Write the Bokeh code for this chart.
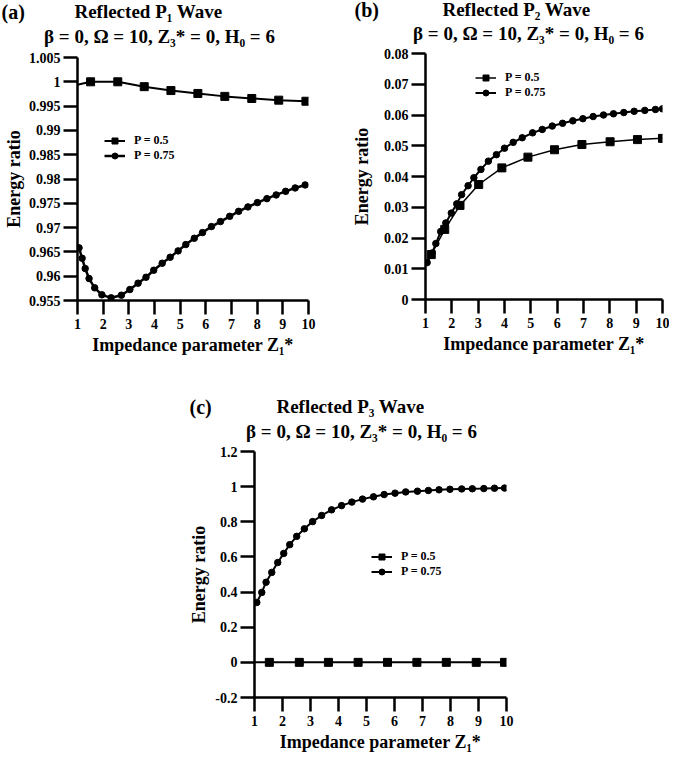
from bokeh.plotting import figure
from bokeh.models import Range1d, FixedTicker, Label, Legend, LegendItem, Spacer
from bokeh.layouts import column, row
from bokeh.embed import file_html
from bokeh.resources import INLINE

FONT = "Liberation Serif"

# ---------------- data ----------------
x_ticks = [1, 2, 3, 4, 5, 6, 7, 8, 9, 10]
x_tick_labels = ["1", "2", "3", "4", "5", "6", "7", "8", "9", "10"]
legend_labels = ["P = 0.5", "P = 0.75"]
x_title = "Impedance parameter Z\u2081*"
y_title = "Energy ratio"
subtitle = "\u03b2 = 0, \u03a9 = 10, Z\u2083* = 0, H\u2080 = 6"

# (a) Reflected P1 wave
a_title = "Reflected P\u2081 Wave"
a_y_ticks = [0.955, 0.96, 0.965, 0.97, 0.975, 0.98, 0.985, 0.99, 0.995, 1.0, 1.005]
a_y_labels = ["0.955", "0.96", "0.965", "0.97", "0.975", "0.98", "0.985", "0.99", "0.995", "1", "1.005"]
a_x_p05 = [1.0, 1.51, 2.57, 3.6, 4.64, 5.69, 6.74, 7.79, 8.84, 9.9]
a_y_p05 = [0.9994, 1.0000, 1.0000, 0.9990, 0.9982, 0.9976, 0.9970, 0.99657, 0.99622, 0.9960]
a_x_p075 = [1.0, 1.06, 1.18, 1.30, 1.45, 1.67, 1.95, 2.31, 2.71, 3.04, 3.36, 3.67, 3.97, 4.30, 4.61,
            4.92, 5.22, 5.55, 5.87, 6.22, 6.57, 6.93, 7.28, 7.64, 8.01, 8.38, 8.74, 9.11, 9.48, 9.87]
a_y_p075 = [0.9662, 0.96583, 0.96369, 0.96158, 0.95952, 0.95761, 0.95617, 0.95555, 0.95609, 0.95726,
            0.95856, 0.95979, 0.96123, 0.96267, 0.9639, 0.96521, 0.96651, 0.9678, 0.96897, 0.97021,
            0.97124, 0.97232, 0.97335, 0.97426, 0.97514, 0.97596, 0.97672, 0.97746, 0.97816, 0.97878]

# (b) Reflected P2 wave
b_title = "Reflected P\u2082 Wave"
b_y_ticks = [0.0, 0.01, 0.02, 0.03, 0.04, 0.05, 0.06, 0.07, 0.08]
b_y_labels = ["0", "0.01", "0.02", "0.03", "0.04", "0.05", "0.06", "0.07", "0.08"]
b_x_p05 = [1.0, 1.22, 1.73, 2.31, 3.02, 3.90, 4.89, 5.90, 6.94, 8.01, 9.05, 10.0]
b_y_p05 = [0.0116, 0.0146, 0.0228, 0.0306, 0.0374, 0.0428, 0.0463, 0.0487, 0.0504, 0.0513, 0.0520, 0.0524]
b_x_p075 = [1.0, 1.062, 1.246, 1.393, 1.577, 1.771, 1.98, 2.187, 2.371, 2.617, 2.837, 3.105, 3.388,
            3.693, 4.0, 4.33, 4.674, 5.067, 5.434, 5.813, 6.206, 6.595, 6.977, 7.367, 7.76, 8.138,
            8.531, 8.924, 9.328, 9.732, 10.0]
b_y_p075 = [0.0116, 0.0120, 0.0151, 0.0182, 0.0221, 0.0249, 0.0281, 0.0311, 0.0341, 0.0370, 0.0396,
            0.0423, 0.0450, 0.0471, 0.0492, 0.0511, 0.0526, 0.0542, 0.0553, 0.0564, 0.0573, 0.0581,
            0.0588, 0.0595, 0.0600, 0.0604, 0.0608, 0.0612, 0.0615, 0.0618, 0.0620]

# (c) Reflected P3 wave
c_title = "Reflected P\u2083 Wave"
c_y_ticks = [-0.2, 0.0, 0.2, 0.4, 0.6, 0.8, 1.0, 1.2]
c_y_labels = ["-0.2", "0", "0.2", "0.4", "0.6", "0.8", "1", "1.2"]
c_x_p05 = [1.0, 1.53, 2.6, 3.64, 4.7, 5.75, 6.8, 7.85, 8.92, 9.93]
c_y_p05 = [0.0, 0.0, 0.0, 0.0, 0.0, 0.0, 0.0, 0.0, 0.0, 0.0]
c_x_p075 = [1.0, 1.082, 1.26, 1.413, 1.616, 1.83, 2.044, 2.258, 2.507, 2.781, 3.077, 3.397, 3.753,
            4.11, 4.477, 4.858, 5.25, 5.631, 6.02, 6.40, 6.82, 7.21, 7.59, 7.98, 8.40, 8.78, 9.19,
            9.57, 9.93]
c_y_p075 = [0.33, 0.341, 0.398, 0.456, 0.512, 0.568, 0.620, 0.670, 0.717, 0.760, 0.801, 0.836, 0.868,
            0.892, 0.912, 0.929, 0.942, 0.955, 0.963, 0.970, 0.974, 0.978, 0.982, 0.985, 0.987,
            0.988, 0.989, 0.991, 0.992]


def no_align(fig):
    if "frame_align" in fig.properties():
        fig.frame_align = False


def make_header(width, height, tag, title, pos):
    """Title strip above a panel; pos = (tag_x, t1_x, t2_x, t1_y, t2_y) in px."""
    h = figure(width=width, height=height, x_range=Range1d(0, width), y_range=Range1d(0, height),
               x_axis_type=None, y_axis_type=None,
               min_border_left=0, min_border_right=0, min_border_top=0, min_border_bottom=0,
               output_backend="svg", toolbar_location=None, title=None)
    no_align(h)
    h.outline_line_color = None
    h.background_fill_color = "white"
    h.border_fill_color = "white"
    tag_x, t1x, t2x, t1y, t2y = pos
    h.add_layout(Label(x=tag_x, y=t1y, text=tag, text_font=FONT, text_font_style="bold",
                       text_font_size="20px", text_align="left", text_baseline="middle",
                       text_color="black"))
    h.add_layout(Label(x=t1x, y=t1y, text=title, text_font=FONT, text_font_style="bold",
                       text_font_size="19px", text_align="center", text_baseline="middle",
                       text_color="black"))
    h.add_layout(Label(x=t2x, y=t2y, text=subtitle, text_font=FONT, text_font_style="bold",
                       text_font_size="19px", text_align="center", text_baseline="middle",
                       text_color="black"))
    return h


def make_panel(y_ticks, y_labels, frame_w, frame_h, mb, ylab_standoff,
               s05, s075, lw05, lw075, legend_pos):
    left, right, top, bottom = mb
    p = figure(width=left + frame_w + right, height=top + frame_h + bottom,
               min_border_left=left, min_border_right=right,
               min_border_top=top, min_border_bottom=bottom,
               x_range=Range1d(x_ticks[0], x_ticks[-1]),
               y_range=Range1d(y_ticks[0], y_ticks[-1]),
               output_backend="svg", toolbar_location=None, title=None)
    no_align(p)
    p.xgrid.grid_line_color = None
    p.ygrid.grid_line_color = None
    p.outline_line_color = None
    p.background_fill_color = "white"
    p.border_fill_color = "white"

    p.xaxis[0].ticker = FixedTicker(ticks=x_ticks)
    p.xaxis[0].major_label_overrides = dict(zip(x_ticks, x_tick_labels))
    p.yaxis[0].ticker = FixedTicker(ticks=y_ticks)
    p.yaxis[0].major_label_overrides = dict(zip(y_ticks, y_labels))
    p.xaxis[0].axis_label = x_title
    p.yaxis[0].axis_label = y_title
    for ax in (p.xaxis[0], p.yaxis[0]):
        ax.axis_line_width = 2.5
        ax.axis_line_color = "black"
        ax.major_tick_line_width = 2.5
        ax.major_tick_line_color = "black"
        ax.major_tick_out = 14
        ax.major_tick_in = 0
        ax.minor_tick_line_color = None
        ax.major_label_text_font = FONT
        ax.major_label_text_font_style = "bold"
        ax.major_label_text_font_size = "14px"
        ax.major_label_text_color = "black"
        ax.axis_label_text_font = FONT
        ax.axis_label_text_font_style = "bold"
        ax.axis_label_text_font_size = "18px"
        ax.axis_label_text_color = "black"
    p.xaxis[0].major_label_standoff = 4
    p.xaxis[0].axis_label_standoff = 3
    p.yaxis[0].major_label_standoff = 3
    p.yaxis[0].axis_label_standoff = ylab_standoff

    (x05, y05), (x075, y075) = s05, s075
    l05 = p.line(x05, y05, line_width=lw05, line_color="black")
    m05 = p.scatter(x05[1:], y05[1:], marker="square", size=8, color="black")
    l075 = p.line(x075, y075, line_width=lw075, line_color="black")
    m075 = p.scatter(x075[1:], y075[1:], marker="circle", size=6.5, color="black")

    legend = Legend(items=[LegendItem(label=legend_labels[0], renderers=[l05, m05]),
                           LegendItem(label=legend_labels[1], renderers=[l075, m075])],
                    location=legend_pos, orientation="vertical",
                    border_line_color=None, background_fill_alpha=0,
                    padding=0, margin=0, spacing=0,
                    glyph_width=21, glyph_height=15, label_height=15, label_standoff=9,
                    label_text_font=FONT, label_text_font_style="bold",
                    label_text_font_size="12px", label_text_color="black")
    p.add_layout(legend)
    return p


# panel (a): canvas x 8..333, frame x 79..316, frame y 57..300
pa = make_panel(a_y_ticks, a_y_labels, 237, 243, (71, 17, 8, 62), 2,
                (a_x_p05, a_y_p05), (a_x_p075, a_y_p075), 2, 2.5, (27, 137))
ha = make_header(325, 49, "(a)", a_title, (1, 148, 159, 38, 13))

# panel (b): canvas x 333..677, frame x 433..670, frame y 53..299
pb = make_panel(b_y_ticks, b_y_labels, 237, 246, (100, 7, 8, 63), 9,
                (b_x_p05, b_y_p05), (b_x_p075, b_y_p075), 1.5, 2, (50, 199))
hb = make_header(344, 45, "(b)", b_title, (29, 191, 203, 36, 12))

# panel (c): canvas x 180..534, frame x 262..514, frame y 451..700
pc = make_panel(c_y_ticks, c_y_labels, 252, 249, (82, 20, 8, 54), 3,
                (c_x_p05, c_y_p05), (c_x_p075, c_y_p075), 2, 2, (117, 118))
hc = make_header(354, 81, "(c)", c_title, (17, 178, 189, 37, 12))

layout = column(row(column(ha, pa), column(hb, pb)),
                row(Spacer(width=172, height=10), column(hc, pc)))

open("out.html", "w").write(file_html(layout, INLINE))
